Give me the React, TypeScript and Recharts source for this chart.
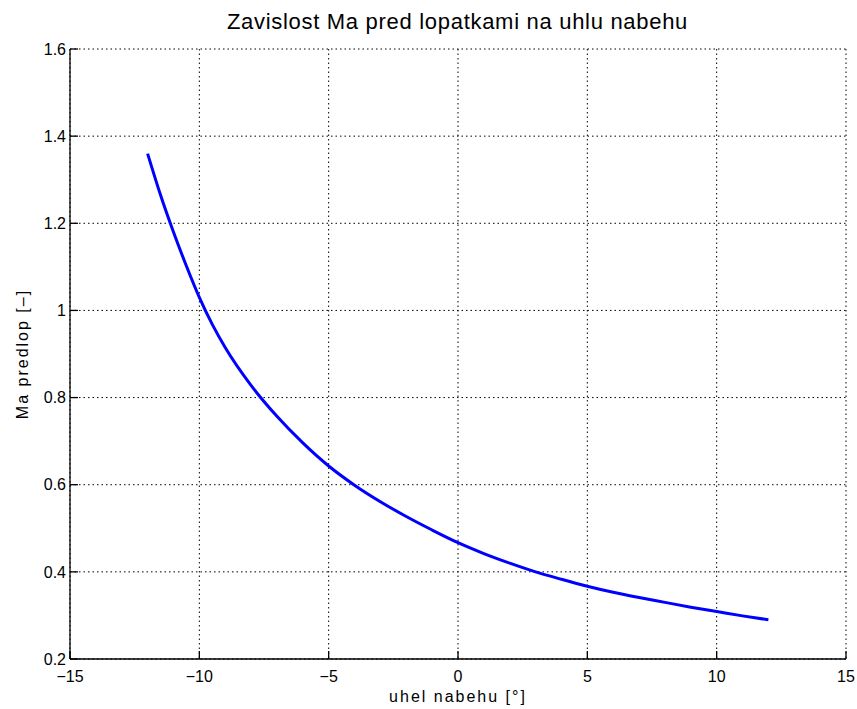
import { LineChart, Line, XAxis, YAxis, CartesianGrid, Label } from 'recharts';

const angles = [-12, -11.5, -11, -10.5, -10, -9.5, -9, -8, -7, -6, -5, -4, -3, -2, -1, 0, 1, 2, 3, 4, 5, 6, 7, 8, 9, 10, 11, 12];
const machValues = [1.36, 1.265, 1.18, 1.102, 1.03, 0.968, 0.915, 0.828, 0.757, 0.696, 0.643, 0.599, 0.561, 0.527, 0.496, 0.467, 0.442, 0.42, 0.4, 0.383, 0.367, 0.353, 0.341, 0.33, 0.319, 0.309, 0.299, 0.29];
const xTicks = [-15, -10, -5, 0, 5, 10, 15];
const yTicks = [0.2, 0.4, 0.6, 0.8, 1, 1.2, 1.4, 1.6];

const data = angles.map((a, i) => ({ angle: a, ma: machValues[i] }));

const font = '"Liberation Sans", Arial, Helvetica, sans-serif';
const tickStyle = { fill: '#000', fontSize: 16, fontFamily: font };

const fmt = (v: number) => String(v).replace('-', '\u2212');

const App = () => {
  return (
    <div style={{ position: 'absolute', left: 0, top: 0, width: 857, height: 709, background: '#fff' }}>
      <div
        style={{
          position: 'absolute',
          top: 9,
          left: 0,
          width: 915,
          textAlign: 'center',
          fontFamily: font,
          fontSize: 22,
          letterSpacing: 0.7,
          color: '#000',
          lineHeight: '26px',
        }}
      >
        Zavislost Ma pred lopatkami na uhlu nabehu
      </div>
      <LineChart width={857} height={709} data={data} margin={{ top: 49, right: 11, bottom: 0, left: 0 }}>
        <CartesianGrid stroke="#000" strokeDasharray="1.5 3" strokeWidth={1} />
        <XAxis
          dataKey="angle"
          type="number"
          domain={[-15, 15]}
          ticks={xTicks}
          height={50}
          tick={tickStyle}
          tickFormatter={fmt}
          tickSize={-8}
          tickMargin={20}
          axisLine={{ stroke: '#000', strokeWidth: 1.3 }}
          tickLine={{ stroke: '#000', strokeWidth: 1.3 }}
        >
          <Label
            content={() => (
              <text x={458} y={702} textAnchor="middle" fontFamily={font} fontSize={16} letterSpacing={2} fill="#000">
                uhel nabehu [°]
              </text>
            )}
          />
        </XAxis>
        <YAxis
          type="number"
          domain={[0.2, 1.6]}
          ticks={yTicks}
          width={70}
          tick={tickStyle}
          tickFormatter={fmt}
          tickSize={-8}
          tickMargin={12}
          axisLine={{ stroke: '#000', strokeWidth: 1.3 }}
          tickLine={{ stroke: '#000', strokeWidth: 1.3 }}
          allowDataOverflow
        >
          <Label
            content={() => (
              <text
                x={28}
                y={354}
                transform="rotate(-90 28 354)"
                textAnchor="middle"
                fontFamily={font}
                fontSize={16}
                letterSpacing={2}
                fill="#000"
              >
                Ma predlop [–]
              </text>
            )}
          />
        </YAxis>
        <Line
          type="monotone"
          dataKey="ma"
          stroke="#0000ff"
          strokeWidth={3}
          dot={false}
          activeDot={false}
          isAnimationActive={false}
        />
      </LineChart>
    </div>
  );
};

export default App;
